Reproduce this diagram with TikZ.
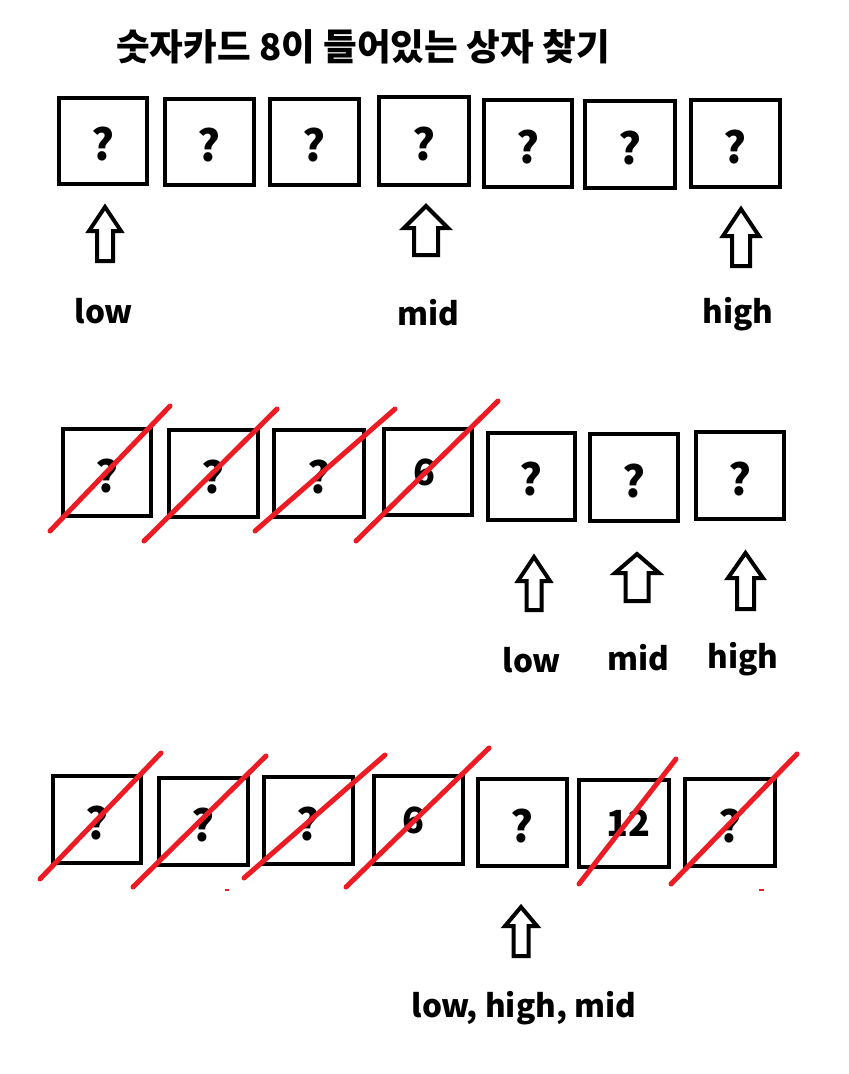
\documentclass[tikz,border=0pt]{standalone}
\usepackage{fontspec}
\setmainfont{Noto Sans CJK KR}
\definecolor{crossred}{RGB}{237,28,36}
\newcommand{\arrowup}[7]{%
  \draw[uarrow] (#2,#3) coordinate (#1) -- (#2+#5,#4) -- (#2+#6,#4) -- (#2+#6,#7) -- (#2-#6,#7) -- (#2-#6,#4) -- (#2-#5,#4) -- cycle;}
\newcommand{\qm}{\raisebox{-3pt}[\height][0pt]{?}}
\begin{document}
\begin{tikzpicture}[x=1pt,y=-1pt,
  card/.style={draw=black, line width=4pt, inner sep=0pt, font=\bfseries\fontsize{43}{43}\selectfont},
  num/.style={font=\bfseries\fontsize{36}{36}\selectfont},
  cross/.style={draw=crossred, line width=5pt, line cap=round},
  uarrow/.style={draw=black, fill=white, line width=4pt, line join=miter},
  lbl/.style={anchor=base, inner sep=0pt, font=\bfseries\fontsize{31.5}{31.5}\selectfont},
  ttl/.style={inner sep=0pt, font=\bfseries\fontsize{36.6}{36.6}\selectfont}]
\useasboundingbox (0,0) rectangle (849,1074);
\fill[white] (0,0) rectangle (849,1074);

\node[ttl] (title) at (363,47) {숫자카드 8이 들어있는 상자 찾기};

% row 1
\node[card, minimum width=88pt, minimum height=86pt] (r1b1) at (103,141) {\qm};
\node[card, minimum width=89pt, minimum height=86pt] (r1b2) at (209.5,142) {\qm};
\node[card, minimum width=89pt, minimum height=86pt] (r1b3) at (314.5,142) {\qm};
\node[card, minimum width=90pt, minimum height=88pt] (r1b4) at (424,141) {\qm};
\node[card, minimum width=88pt, minimum height=87pt] (r1b5) at (528,143.5) {\qm};
\node[card, minimum width=90pt, minimum height=87pt] (r1b6) at (630,144.5) {\qm};
\node[card, minimum width=89pt, minimum height=87pt] (r1b7) at (735.5,143.5) {\qm};

\arrowup{r1a1}{105}{207}{231}{16}{8}{261}
\arrowup{r1a2}{426}{206}{228}{22}{12}{255}
\arrowup{r1a3}{741}{209}{236}{18}{9}{266}
\node[lbl] (r1low) at (104,323) {low};
\node[lbl] (r1mid) at (428,325) {mid};
\node[lbl] (r1high) at (738,323) {high};

% row 2
\node[card, minimum width=88pt, minimum height=87pt] (r2b1) at (107,472.5) {\qm};
\node[card, minimum width=89pt, minimum height=87pt] (r2b2) at (213.5,473.5) {\qm};
\node[card, minimum width=90pt, minimum height=87pt] (r2b3) at (319,473.5) {\qm};
\node[card, num, minimum width=88pt, minimum height=86pt] (r2b4) at (428,472) {\hspace*{-8pt}6};
\node[card, minimum width=87pt, minimum height=87pt] (r2b5) at (531.5,476) {\qm};
\node[card, minimum width=88pt, minimum height=87pt] (r2b6) at (634,477.5) {\qm};
\node[card, minimum width=88pt, minimum height=87pt] (r2b7) at (740,475.5) {\qm};

\draw[cross] (50,531) -- (170,406);
\draw[cross] (144,541) -- (277,409);
\draw[cross] (255,531) -- (395,409);
\draw[cross] (356,541) -- (498,401);

\arrowup{r2a1}{534}{557}{581}{16}{7.5}{610}
\arrowup{r2a2}{637}{554}{573}{22}{11.5}{601}
\arrowup{r2a3}{745.5}{553}{578}{17.5}{8.5}{609}
\node[lbl] (r2low) at (532,672) {low};
\node[lbl] (r2mid) at (638,670) {mid};
\node[lbl] (r2high) at (743,668) {high};

% row 3
\node[card, minimum width=88pt, minimum height=87pt] (r3b1) at (97,819.5) {\qm};
\node[card, minimum width=89pt, minimum height=87pt] (r3b2) at (203.5,821.5) {\qm};
\node[card, minimum width=89pt, minimum height=87pt] (r3b3) at (308.5,820.5) {\qm};
\node[card, num, minimum width=89pt, minimum height=88pt] (r3b4) at (418.5,820) {\hspace*{-10pt}6};
\node[card, minimum width=89pt, minimum height=87pt] (r3b5) at (522.5,822.5) {\qm};
\node[card, num, minimum width=90pt, minimum height=87pt] (r3b6) at (624,823.5) {\hspace*{8pt}12};
\node[card, minimum width=90pt, minimum height=87pt] (r3b7) at (730,822.5) {\qm};

\draw[cross] (40,879) -- (161,753);
\draw[cross] (133,887) -- (266,756);
\draw[cross] (244,878) -- (385,755);
\draw[cross] (346,887) -- (489,748);
\draw[cross] (579,884) -- (676,759);
\draw[cross] (671,884) -- (797,754);
\draw[crossred, line width=1.5pt] (225,890) -- (229,890);
\draw[crossred, line width=1.5pt] (759,890) -- (764,890);

\arrowup{r3a1}{521}{907}{926}{16}{7.5}{956}
\node[lbl] (r3lbl) at (524,1017) {low, high, mid};
\end{tikzpicture}
\end{document}
